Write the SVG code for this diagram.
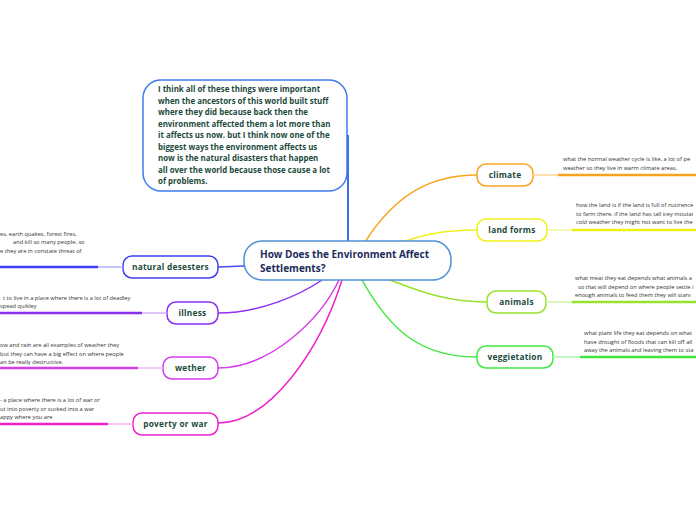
<svg xmlns="http://www.w3.org/2000/svg" width="696" height="520" viewBox="0 0 696 520">
<style>
.node{fill:#fff;stroke-width:1.5}
.lbl{font-family:"Open Sans","Noto Sans",sans-serif;font-weight:bold;font-size:8.3px;fill:#1d4a3c;text-anchor:middle;letter-spacing:0.25px}
.desc{font-family:"Open Sans","Noto Sans",sans-serif;font-size:5.7px;fill:#333}
.top{font-family:"Open Sans","Noto Sans",sans-serif;font-weight:bold;font-size:7.9px;fill:#1d4a3c}
.ctr{font-family:"Open Sans","Noto Sans",sans-serif;font-weight:bold;font-size:10px;fill:#1c2b5a}
.c{fill:none;stroke-width:1.5}
</style>
<rect width="696" height="520" fill="#fff"/>
<g id="connectors">
<line x1="348" y1="135" x2="348" y2="242" stroke="#3b6ff0" stroke-width="2"/>
<path class="c" stroke="#f8a422" d="M365,242 C395,195 430,175 477,175"/>
<path class="c" stroke="#eef01c" d="M403,242 C420,236 440,230 477,230"/>
<path class="c" stroke="#98e22c" d="M387,279 C410,287 440,302 487,302"/>
<path class="c" stroke="#3ee83e" d="M362,280 C390,330 420,357 477,357"/>
<path class="c" stroke="#4a4af2" d="M244,266 L218,267"/>
<path class="c" stroke="#8a30ee" d="M322,280 C300,295 260,313 218,313"/>
<path class="c" stroke="#d43ee8" d="M339,280 C320,320 270,368 218,368"/>
<path class="c" stroke="#ee22cc" d="M342,280 C320,350 270,423 218,423"/>
</g>
<g id="top-note">
<rect class="node" x="143" y="80" width="204" height="111" rx="18" stroke="#3e7af0"/>
<text class="top"><tspan x="158" y="92">I think all of these things were important</tspan><tspan x="158" y="103.5">when the ancestors of this world built stuff</tspan><tspan x="158" y="115">where they did because back then the</tspan><tspan x="158" y="126.5">environment affected them a lot more than</tspan><tspan x="158" y="138">it affects us now. but I think now one of the</tspan><tspan x="158" y="149.5">biggest ways the environment affects us</tspan><tspan x="158" y="161">now is the natural disasters that happen</tspan><tspan x="158" y="172.5">all over the world because those cause a lot</tspan><tspan x="158" y="184">of problems.</tspan></text>
</g>
<g id="central">
<rect class="node" x="244" y="241" width="207" height="39" rx="18" stroke="#4d8fd6"/>
<text class="ctr"><tspan x="260" y="258">How Does the Environment Affect</tspan><tspan x="260" y="272">Settlements?</tspan></text>
</g>
<g id="climate">
<rect class="node" x="477" y="164" width="56" height="22" rx="9" stroke="#f8a422"/>
<text class="lbl" x="505" y="178">climate</text>
<line x1="533" y1="175" x2="558" y2="175" stroke="#fcd596" stroke-width="1.5"/>
<line x1="558" y1="175" x2="696" y2="175" stroke="#f8a422" stroke-width="2.5"/>
<text class="desc"><tspan x="563" y="161">what the normal weather cycle is like, a lot of pe</tspan><tspan x="563" y="170">weather so they live in warm climate areas.</tspan></text>
</g>
<g id="land-forms">
<rect class="node" x="477" y="219" width="70" height="22" rx="9" stroke="#eef01c"/>
<text class="lbl" x="512" y="233">land forms</text>
<line x1="547" y1="230" x2="572" y2="230" stroke="#f6f79a" stroke-width="1.5"/>
<line x1="572" y1="230" x2="696" y2="230" stroke="#eef01c" stroke-width="2.5"/>
<text class="desc"><tspan x="576" y="207">how the land is if the land is full of nutirence</tspan><tspan x="576" y="215.5">to farm there, if the land has tall icey moutai</tspan><tspan x="576" y="224">cold weather they might not want to live the</tspan></text>
</g>
<g id="animals">
<rect class="node" x="487" y="291" width="59" height="22" rx="9" stroke="#98e22c"/>
<text class="lbl" x="516.5" y="305">animals</text>
<line x1="546" y1="302" x2="572" y2="302" stroke="#cff3a0" stroke-width="1.5"/>
<line x1="572" y1="302" x2="696" y2="302" stroke="#98e22c" stroke-width="2.5"/>
<text class="desc"><tspan x="575" y="280">what meat they eat depends what animals a</tspan><tspan x="578" y="289">so that will depend on where people settle i</tspan><tspan x="575" y="297">enough animals to feed them they will starv</tspan></text>
</g>
<g id="veggietation">
<rect class="node" x="477" y="346" width="76" height="22" rx="9" stroke="#3ee83e"/>
<text class="lbl" x="515" y="360">veggietation</text>
<line x1="553" y1="357" x2="580" y2="357" stroke="#aef4ae" stroke-width="1.5"/>
<line x1="580" y1="357" x2="696" y2="357" stroke="#3ee83e" stroke-width="2.5"/>
<text class="desc"><tspan x="584" y="335">what plant life they eat depends on what</tspan><tspan x="584" y="344">have drought of floods that can kill off all</tspan><tspan x="584" y="352">away the animals and leaving them to sta</tspan></text>
</g>
<g id="natural-desesters">
<rect class="node" x="123" y="256" width="95" height="22" rx="9" stroke="#4040f0"/>
<text class="lbl" x="170.5" y="270">natural desesters</text>
<line x1="98" y1="267" x2="123" y2="267" stroke="#b0b0fa" stroke-width="1.5"/>
<line x1="0" y1="267" x2="98" y2="267" stroke="#4040f0" stroke-width="2.5"/>
<text class="desc"><tspan x="0" y="236">es, earth quakes, forest fires,</tspan><tspan x="13" y="244">and kill so many people, so</tspan><tspan x="0" y="252.5">e they are in constate threat of</tspan></text>
</g>
<g id="illness">
<rect class="node" x="167" y="302" width="51" height="22" rx="9" stroke="#8a30ee"/>
<text class="lbl" x="192.5" y="316">illness</text>
<line x1="142" y1="313" x2="167" y2="313" stroke="#d2b0f8" stroke-width="1.5"/>
<line x1="0" y1="313" x2="142" y2="313" stroke="#8a30ee" stroke-width="2.5"/>
<text class="desc"><tspan x="3" y="300">t to live in a place where there is a lot of deadley</tspan><tspan x="0" y="308">spead quikley</tspan></text>
</g>
<g id="wether">
<rect class="node" x="163" y="357" width="55" height="22" rx="9" stroke="#d43ee8"/>
<text class="lbl" x="190.5" y="371">wether</text>
<line x1="138" y1="368" x2="163" y2="368" stroke="#f0b4f8" stroke-width="1.5"/>
<line x1="0" y1="368" x2="138" y2="368" stroke="#d43ee8" stroke-width="2.5"/>
<text class="desc"><tspan x="0" y="347">ow and rain are all examples of weather they</tspan><tspan x="0" y="355.5">but they can have a big effect on where people</tspan><tspan x="0" y="364">an be really destructive.</tspan></text>
</g>
<g id="poverty-or-war">
<rect class="node" x="133" y="413" width="85" height="22" rx="9" stroke="#ee22cc"/>
<text class="lbl" x="175.5" y="427">poverty or war</text>
<line x1="108" y1="424" x2="133" y2="424" stroke="#f8b0ec" stroke-width="1.5"/>
<line x1="0" y1="424" x2="108" y2="424" stroke="#ee22cc" stroke-width="2.5"/>
<text class="desc"><tspan x="0" y="402">- a place where there is a lot of war or</tspan><tspan x="0" y="410.5">ut into poverty or sucked into a war</tspan><tspan x="0" y="419">appy where you are</tspan></text>
</g>
</svg>
